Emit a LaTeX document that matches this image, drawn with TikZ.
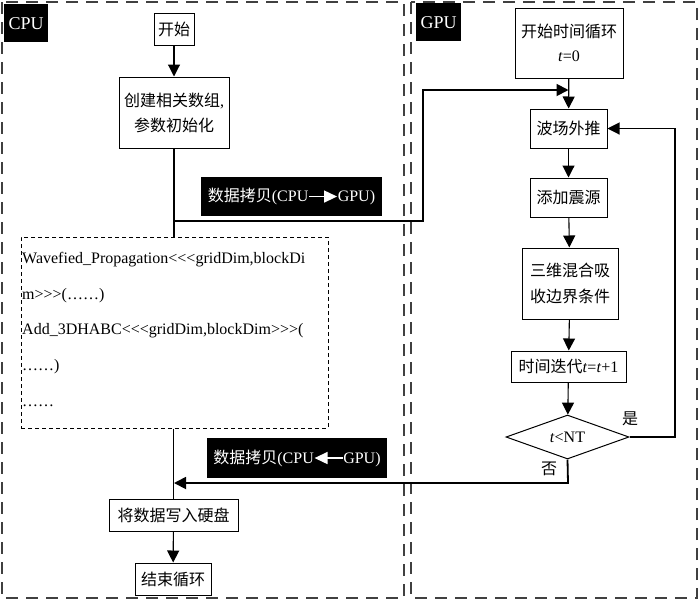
\documentclass[tikz,border=0pt]{standalone}
\usepackage{fontspec}
\setmainfont{Liberation Serif}
\newfontfamily\cjk{Noto Sans CJK SC}
\usetikzlibrary{arrows.meta,shapes.geometric,calc}
\newcommand{\rarr}{\tikz[x=1pt,y=1pt,baseline=0pt]\draw[white,line width=1.4pt,-{Triangle[length=13pt,width=12pt]}] (0,5) -- (28,5);}
\newcommand{\larr}{\tikz[x=1pt,y=1pt,baseline=0pt]\draw[white,line width=1.4pt,-{Triangle[length=13pt,width=12pt]}] (28,5) -- (0,5);}
\begin{document}
\begin{tikzpicture}[x=1pt,y=-1pt,
  region/.style={draw=black!75,line width=1.5pt,dash pattern=on 12pt off 8pt},
  box/.style={draw,line width=1pt,inner sep=0pt,align=center,font=\fontsize{16}{25}\selectfont},
  lab/.style={fill=black,text=white,inner sep=0pt,font=\fontsize{16}{20}\selectfont},
  conn/.style={line width=1.1pt},
  thick conn/.style={line width=1.8pt},
  arr/.style={-{Triangle[length=12pt,width=12pt]}},
  txt/.style={inner sep=0pt,font=\fontsize{16}{20}\selectfont}]
\useasboundingbox (0,0) rectangle (700,600);
% regions
\draw[region] (2,2) rectangle (404,598);
\draw[region] (411,2) rectangle (697,598);
\node[lab,minimum width=44,minimum height=38,anchor=north west,font=\fontsize{18}{20}\selectfont] (cpulab) at (4,4) {CPU};
\node[lab,minimum width=45,minimum height=38,anchor=north west,font=\fontsize{18}{20}\selectfont] (gpulab) at (416,3) {GPU};
% CPU side
\node[box,minimum width=40,minimum height=32] (start) at (174,29) {\cjk 开始};
\node[box,minimum width=110,minimum height=71] (init) at (174,112.5) {{\cjk 创建相关数组}{,}\\{\cjk 参数初始化}};
\node[draw,line width=1pt,dash pattern=on 4pt off 3pt,minimum width=307,minimum height=191,inner sep=0pt] (codebox) at (174.5,332.5) {};
\node[txt,anchor=north west,align=left,font=\fontsize{16}{35.75}\selectfont] (code) at (22,252)
 {Wavefied\_Propagation<{}<{}<gridDim,blockDi\\m>{}>{}>(……)\\Add\_3DHABC<{}<{}<gridDim,blockDim>{}>{}>(\\……)\\……};
\node[lab,minimum width=181,minimum height=39] (copy1) at (291.5,196.5) {{\cjk 数据拷贝}(CPU\rarr GPU)};
\node[lab,minimum width=180,minimum height=40] (copy2) at (297,458) {{\cjk 数据拷贝}(CPU\larr GPU)};
\node[box,minimum width=129,minimum height=32] (write) at (173.5,515) {\cjk 将数据写入硬盘};
\node[box,minimum width=76,minimum height=32] (finish) at (173,579) {\cjk 结束循环};
% GPU side
\node[box,minimum width=108,minimum height=70,font=\fontsize{16}{24}\selectfont] (tstart) at (569,43) {{\cjk 开始时间循环}\\\textit{t}=0};
\node[box,minimum width=77,minimum height=39] (wave) at (568.5,128.5) {\cjk 波场外推};
\node[box,minimum width=77,minimum height=39] (src) at (568.5,197.5) {\cjk 添加震源};
\node[box,minimum width=96,minimum height=71,font=\fontsize{16}{26}\selectfont] (abc) at (570,283.5) {{\cjk 三维混合吸}\\{\cjk 收边界条件}};
\node[box,minimum width=115,minimum height=31] (iter) at (568.5,366.5) {{\cjk 时间迭代}\textit{t}=\textit{t}+1};
\node[draw,line width=1pt,diamond,aspect=2.8,inner sep=0pt,minimum width=123,minimum height=44,font=\fontsize{16}{20}\selectfont] (dia) at (567.5,437) {\textit{t}<NT};
\node[txt] (yes) at (630,419) {\cjk 是};
\node[txt] (no) at (549,469) {\cjk 否};
% coordinates
\coordinate (c1) at (174,221);
\coordinate (j1) at (568.5,90);
\coordinate (r1) at (675,128.5);
\coordinate (j2) at (174,483);
% connectors CPU
\draw[conn,arr] (start) -- (init);
\draw[conn] (init.south) -- (init.south |- codebox.north);
\draw[conn] (codebox.south -| write.north) -- (write.north);
\draw[conn,arr] (write) -- (finish);
% transfers
\draw[thick conn,arr] (c1) -- (423,221) -- (423,90) -- (j1);
\draw[thick conn,arr] (dia.south) -- (568,483) -- (j2);
% connectors GPU
\draw[conn,arr] (tstart) -- (wave);
\draw[conn,arr] (wave) -- (src);
\draw[conn,arr] (src) -- (abc);
\draw[conn,arr] (abc) -- (iter);
\draw[conn,arr] (iter) -- (dia);
\draw[conn,arr] (dia.east) -| (r1) -- (wave.east);
\end{tikzpicture}
\end{document}
